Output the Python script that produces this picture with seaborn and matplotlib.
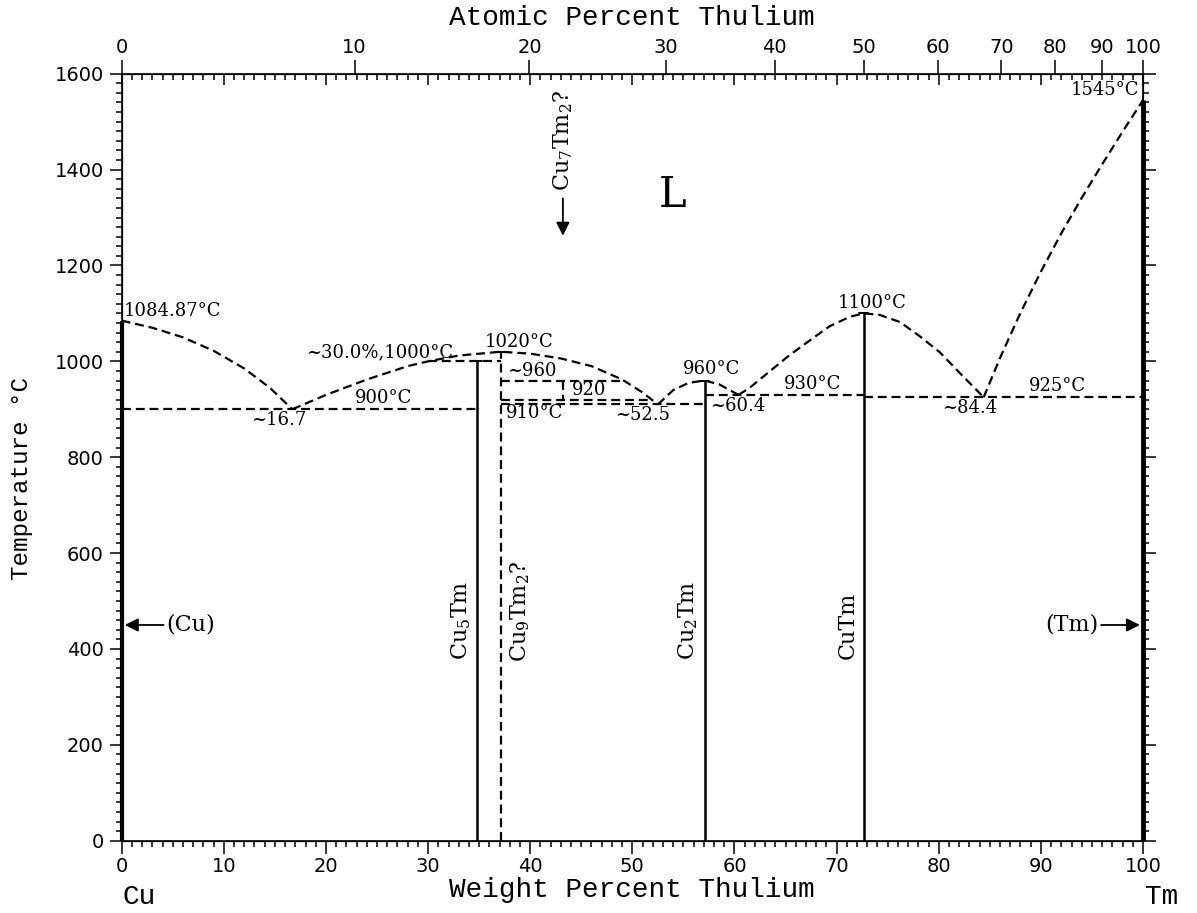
import matplotlib
matplotlib.use('Agg')
import matplotlib.pyplot as plt
from matplotlib import font_manager
from matplotlib.ticker import MultipleLocator, NullLocator
import seaborn as sns

# Cu-Tm phase diagram (wt% Tm, deg C)
cu_liq_wt = [0, 3, 6, 9, 12, 14.5, 16.7]
cu_liq_t = [1084.87, 1070, 1050, 1022, 985, 945, 900]

mid_liq_wt = [16.7, 20, 24, 28, 30, 33, 37.1, 40, 43, 46, 49, 51, 52.5]
mid_liq_t = [900, 930, 962, 990, 1000, 1012, 1020, 1016, 1006, 990, 962, 935, 910]

cu2tm_liq_wt = [52.5, 54, 55.5, 57.07, 58.5, 60.4]
cu2tm_liq_t = [910, 940, 955, 960, 952, 930]

cutm_liq_wt = [60.4, 61.5, 63.5, 65.4, 67.4, 69.3, 71.3, 72.67, 74.2, 76.2, 78.1, 80.1, 82.0, 84.4]
cutm_liq_t = [930, 945, 980, 1013, 1044, 1073, 1093, 1100, 1097, 1082, 1053, 1019, 977, 925]

tm_liq_wt = [84.4, 86, 88, 90, 92, 94, 96, 98, 100]
tm_liq_t = [925, 1007, 1101, 1187, 1267, 1341, 1411, 1479, 1545]

# invariant lines: (wt start, wt end, temperature)
isotherms = [(0, 34.8, 900), (30.0, 37.1, 1000), (37.1, 49.0, 960),
             (37.1, 52.0, 920), (37.1, 57.07, 910), (57.07, 72.67, 930),
             (72.67, 100, 925)]

# compounds: (wt%, top temperature, dashed?)
compounds = [(34.8, 1000, False), (37.1, 1020, True), (57.07, 960, False), (72.67, 1100, False)]

# text labels: (text, wt, T, ha)
labels = [("1084.87°C", 0.2, 1106, 'left'), ("~16.7", 15.4, 877, 'center'),
          ("900°C", 25.6, 923, 'center'), ("~30.0%,1000°C", 25.3, 1019, 'center'),
          ("1020°C", 38.9, 1040, 'center'), ("~960", 40.2, 980, 'center'),
          ("920", 45.8, 940, 'center'), ("910°C", 40.4, 892, 'center'),
          ("~52.5", 51.0, 888, 'center'), ("960°C", 57.8, 984, 'center'),
          ("~60.4", 60.3, 907, 'center'), ("930°C", 67.6, 952, 'center'),
          ("1100°C", 73.5, 1121, 'center'), ("~84.4", 83.0, 902, 'center'),
          ("925°C", 91.6, 948, 'center'), ("1545°C", 99.6, 1566, 'right')]

phase_names = [("Cu$_5$Tm", 33.2, 460), ("Cu$_9$Tm$_2$?", 39.0, 479),
               ("Cu$_2$Tm", 55.5, 460), ("CuTm", 71.1, 450)]

at_ticks = list(range(0, 101, 10))

sns.set_style('ticks')
plt.rcParams['font.family'] = ['DejaVu Serif']
plt.rcParams['mathtext.fontset'] = 'dejavuserif'
plt.rcParams.update({'axes.edgecolor': 'black', 'xtick.color': 'black',
                     'ytick.color': 'black', 'text.color': 'black'})

installed = {f.name for f in font_manager.fontManager.ttflist}
if 'Liberation Sans Narrow' in installed:
    tick_font, tick_size = 'Liberation Sans Narrow', 15
else:
    tick_font, tick_size = 'DejaVu Sans', 14

W, H = 1197, 913
fig = plt.figure(figsize=(W / 100, H / 100), dpi=100)
x0, x1, y0, y1 = 121.7, 1143, 840.7, 73.7
ax = fig.add_axes([x0 / W, 1 - y0 / H, (x1 - x0) / W, (y0 - y1) / H])

dash = dict(color='black', lw=1.6, linestyle=(0, (4, 2.2)))
for xs, ys in [(cu_liq_wt, cu_liq_t), (mid_liq_wt, mid_liq_t), (cu2tm_liq_wt, cu2tm_liq_t),
               (cutm_liq_wt, cutm_liq_t), (tm_liq_wt, tm_liq_t)]:
    sns.lineplot(x=xs, y=ys, ax=ax, estimator=None, sort=False, legend=False, **dash)

for a, b, t in isotherms:
    ax.plot([a, b], [t, t], **dash)
ax.plot([43.2, 43.2], [960, 920], **dash)

for w, t, dashed in compounds:
    if dashed:
        ax.plot([w, w], [0, t], **dash)
    else:
        ax.plot([w, w], [0, t], color='black', lw=1.8)
    ax.plot([w - 0.45, w + 0.45], [t, t], color='black', lw=1.4)

# pure element solid boundaries
ax.plot([0, 0], [0, 1084.87], color='black', lw=3, clip_on=False, solid_capstyle='butt')
ax.plot([100, 100], [0, 1545], color='black', lw=3.5, clip_on=False, solid_capstyle='butt')

for txt, w, t, ha in labels:
    ax.text(w, t, txt, ha=ha, va='center', fontsize=13)
for txt, w, t in phase_names:
    ax.text(w, t, txt, ha='center', va='center', rotation=90, fontsize=16)

ax.text(53.9, 1347, "L", ha='center', va='center', fontsize=30)
ax.text(43.2, 1461, "Cu$_7$Tm$_2$?", ha='center', va='center', rotation=90, fontsize=16)

arrow = dict(arrowstyle='-|>', color='black', lw=1.3, mutation_scale=20, shrinkA=0, shrinkB=0)
ax.annotate("", xy=(43.2, 1262), xytext=(43.2, 1340), arrowprops=arrow)
ax.annotate("", xy=(0.3, 450), xytext=(4.1, 450), arrowprops=arrow)
ax.annotate("", xy=(99.7, 450), xytext=(95.9, 450), arrowprops=arrow)
ax.text(4.4, 450, "(Cu)", ha='left', va='center', fontsize=16)
ax.text(95.6, 450, "(Tm)", ha='right', va='center', fontsize=16)

ax.set_xlim(0, 100)
ax.set_ylim(0, 1600)
ax.xaxis.set_major_locator(MultipleLocator(10))
ax.xaxis.set_minor_locator(MultipleLocator(1))
ax.yaxis.set_major_locator(MultipleLocator(200))
ax.yaxis.set_minor_locator(MultipleLocator(20))
ax.tick_params(axis='x', which='both', direction='out', top=False, bottom=True, width=1.1)
ax.tick_params(axis='x', which='major', length=9, pad=3)
ax.tick_params(axis='x', which='minor', length=4)
ax.tick_params(axis='y', which='both', direction='out', left=True, right=True, width=1.1)
ax.tick_params(axis='y', which='major', length=9, pad=4)
ax.tick_params(axis='y', which='minor', length=4.5)
for lab in ax.get_xticklabels() + ax.get_yticklabels():
    lab.set_family(tick_font)
    lab.set_fontsize(tick_size)
ax.set_xlabel("")
ax.set_ylabel("")
for sp in ax.spines.values():
    sp.set_visible(True)
    sp.set_linewidth(1.2)

# inward weight-percent ticks along the top edge
ax_in = ax.twiny()
ax_in.set_xlim(0, 100)
ax_in.xaxis.set_major_locator(MultipleLocator(10))
ax_in.xaxis.set_minor_locator(MultipleLocator(1))
ax_in.tick_params(axis='x', which='both', direction='in', top=True, bottom=False,
                  labeltop=False, width=1.1)
ax_in.tick_params(axis='x', which='major', length=8)
ax_in.tick_params(axis='x', which='minor', length=4)

# atomic percent scale on top
def at2wt(a):
    return a * 168.93 / (a * 168.93 + (100 - a) * 63.546) * 100

ax_at = ax.twiny()
ax_at.set_xlim(0, 100)
ax_at.set_xticks([at2wt(a) for a in at_ticks])
ax_at.set_xticklabels([str(a) for a in at_ticks], family=tick_font, fontsize=tick_size)
ax_at.xaxis.set_minor_locator(NullLocator())
ax_at.tick_params(axis='x', which='major', direction='out', length=10, width=1.1, pad=2,
                  top=True, bottom=False)

mono = 'Liberation Mono'
fig.text(632 / W, 1 - 18 / H, "Atomic Percent Thulium", ha='center', va='center',
         family=mono, fontsize=20)
fig.text(632 / W, 1 - 890 / H, "Weight Percent Thulium", ha='center', va='center',
         family=mono, fontsize=20)
fig.text(22 / W, 1 - 479 / H, "Temperature °C", ha='center', va='center', rotation=90,
         family=mono, fontsize=17.5)
fig.text(123 / W, 1 - 897 / H, "Cu", ha='left', va='center', family=mono, fontsize=20)
fig.text(1145 / W, 1 - 897 / H, "Tm", ha='left', va='center', family=mono, fontsize=20)

fig.savefig('out.png', dpi=100)
